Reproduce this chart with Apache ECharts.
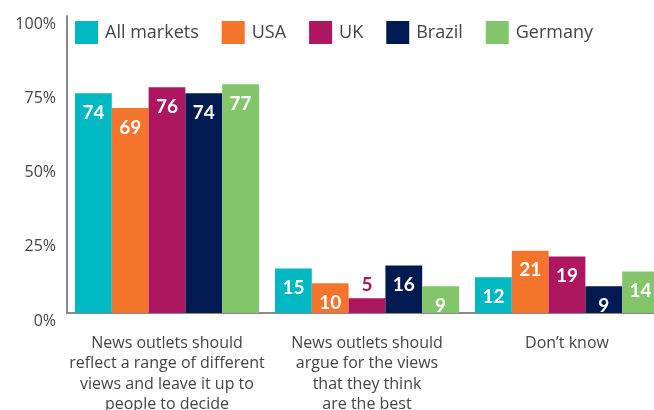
<!DOCTYPE html>
<html><head><meta charset="utf-8">
<script src="https://cdn.jsdelivr.net/npm/echarts@6/dist/echarts.min.js"></script>
<style>html,body{margin:0;padding:0;background:#fff}#c{width:654px;height:410px}</style>
</head><body><div id="c"></div>
<script>
const categories = [
  "News outlets should\nreflect a range of different\nviews and leave it up to\npeople to decide",
  "News outlets should\nargue for the views\nthat they think\nare the best",
  "Don\u2019t know"
];
const seriesNames = ["All markets", "USA", "UK", "Brazil", "Germany"];
const allMarkets = [74, 15, 12];
const usa = [69, 10, 21];
const uk = [76, 5, 19];
const brazil = [74, 16, 9];
const germany = [77, 9, 14];
const yTicks = [0, 25, 50, 75, 100];

const colors = ["#00B8C1", "#F4742C", "#AE1660", "#021A52", "#83C56A"];
const seriesValues = [allMarkets, usa, uk, brazil, germany];
const FONT = "Open Sans";

const series = seriesNames.map((name, i) => ({
  name, type: 'bar', barGap: 0, barCategoryGap: '8%',
  itemStyle: { color: colors[i] },
  data: seriesValues[i].map(v => {
    const small = v < 8;
    return {
      value: v,
      label: {
        show: true,
        position: small ? 'top' : 'insideTop',
        distance: small ? 4 : 10,
        color: small ? colors[i] : '#fff',
        fontSize: 19, fontWeight: 'bold', fontFamily: "Lato"
      }
    };
  })
}));

const chart = echarts.init(document.getElementById('c'));
chart.setOption({
  animation: false,
  textStyle: { fontFamily: FONT },
  legend: {
    left: 70, top: 16, itemWidth: 23, itemHeight: 23, itemGap: 23,
    icon: 'rect',
    textStyle: { fontSize: 18, color: '#444', fontFamily: FONT, padding: [0, 0, 0, 2] },
    data: seriesNames
  },
  grid: { left: 67, top: 16, width: 600, height: 297, containLabel: false, outerBoundsMode: 'none' },
  xAxis: {
    type: 'category', data: categories,
    axisLine: { lineStyle: { color: '#8a8a8a', width: 2 } },
    axisTick: { show: false },
    axisLabel: { color: '#444', fontSize: 16, lineHeight: 20.5, margin: 20, fontFamily: FONT, interval: 0 }
  },
  yAxis: {
    type: 'value', min: 0, max: 100, interval: 25,
    axisLine: { show: true, lineStyle: { color: '#8a8a8a', width: 2 } },
    axisTick: { show: false },
    splitLine: { show: false },
    axisLabel: {
      color: '#444', fontSize: 16, fontFamily: FONT, margin: 11,
      verticalAlign: 'top',
      formatter: v => yTicks.includes(v) ? v + '%' : ''
    }
  },
  series
});
</script></body></html>
